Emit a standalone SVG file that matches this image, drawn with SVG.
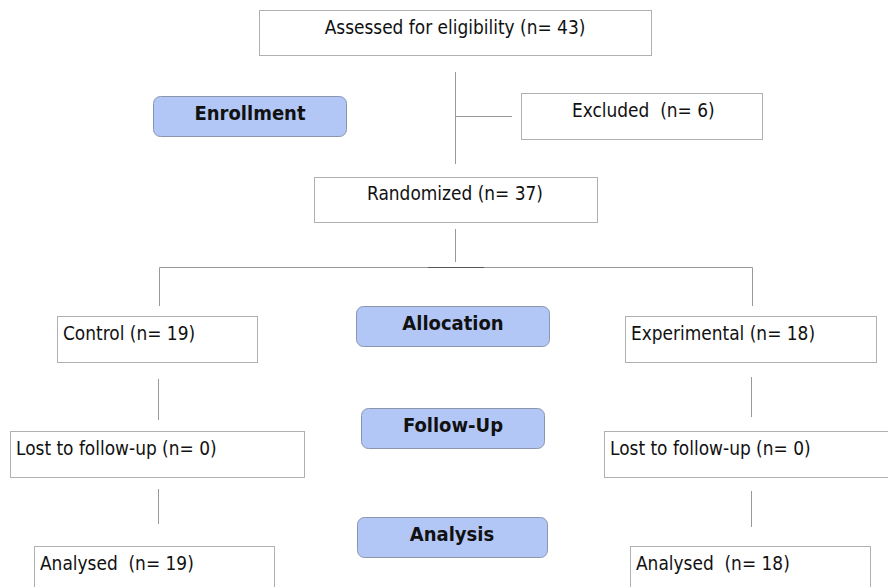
<svg xmlns="http://www.w3.org/2000/svg" width="888" height="587" viewBox="0 0 888 587">
<style>
.box{fill:#fff;stroke:#b0b0b0;stroke-width:1}
.stage{fill:#b3c7f7;stroke:#8a96b0;stroke-width:1}
.t{font-family:"DejaVu Sans Condensed","DejaVu Sans",sans-serif;font-size:18.9px;fill:#111}
.h{font-family:"DejaVu Sans Condensed","DejaVu Sans",sans-serif;font-size:20px;font-weight:bold;fill:#111;text-anchor:middle}
.c{text-anchor:middle}
.ln{stroke:#999;stroke-width:1;fill:none}
</style>
<rect width="888" height="587" fill="#fff"/>
<g id="connectors">
<path class="ln" d="M455.5 72V164M455.5 116.5H512M455.5 229V262M159.5 306V267.5H752.5V306M158.5 379V420M751.5 377V417M158.5 489V524M751.5 491V527"/>
<path d="M428 267.5H484" stroke="#555" stroke-width="1.2"/>
</g>
<g id="assessed"><rect class="box" x="259.5" y="10.5" width="392" height="45"/><text class="t c" x="455" y="34">Assessed for eligibility (n= 43)</text></g>
<g id="enrollment"><rect class="stage" x="153.5" y="96.5" width="193" height="40" rx="7"/><text class="h" x="250" y="120">Enrollment</text></g>
<g id="excluded"><rect class="box" x="521.5" y="93.5" width="241" height="46"/><text class="t" x="572" y="117" xml:space="preserve">Excluded  (n= 6)</text></g>
<g id="randomized"><rect class="box" x="314.5" y="177.5" width="283" height="45"/><text class="t c" x="455" y="200">Randomized (n= 37)</text></g>
<g id="control"><rect class="box" x="57.5" y="316.5" width="200" height="46"/><text class="t" x="63" y="340">Control (n= 19)</text></g>
<g id="allocation"><rect class="stage" x="356.5" y="306.5" width="193" height="40" rx="7"/><text class="h" x="453" y="330">Allocation</text></g>
<g id="experimental"><rect class="box" x="625.5" y="316.5" width="251" height="46"/><text class="t" x="631" y="340">Experimental (n= 18)</text></g>
<g id="lost-left"><rect class="box" x="10.5" y="431.5" width="294" height="46"/><text class="t" x="16" y="455">Lost to follow-up (n= 0)</text></g>
<g id="followup"><rect class="stage" x="361.5" y="408.5" width="183" height="40" rx="7"/><text class="h" x="453" y="432">Follow-Up</text></g>
<g id="lost-right"><rect class="box" x="604.5" y="431.5" width="290" height="46"/><text class="t" x="610" y="455">Lost to follow-up (n= 0)</text></g>
<g id="analysed-left"><rect class="box" x="34.5" y="546.5" width="240" height="50"/><text class="t" x="40" y="570" xml:space="preserve">Analysed  (n= 19)</text></g>
<g id="analysis"><rect class="stage" x="357.5" y="517.5" width="190" height="40" rx="7"/><text class="h" x="452" y="541">Analysis</text></g>
<g id="analysed-right"><rect class="box" x="630.5" y="546.5" width="240" height="50"/><text class="t" x="636" y="570" xml:space="preserve">Analysed  (n= 18)</text></g>
</svg>
